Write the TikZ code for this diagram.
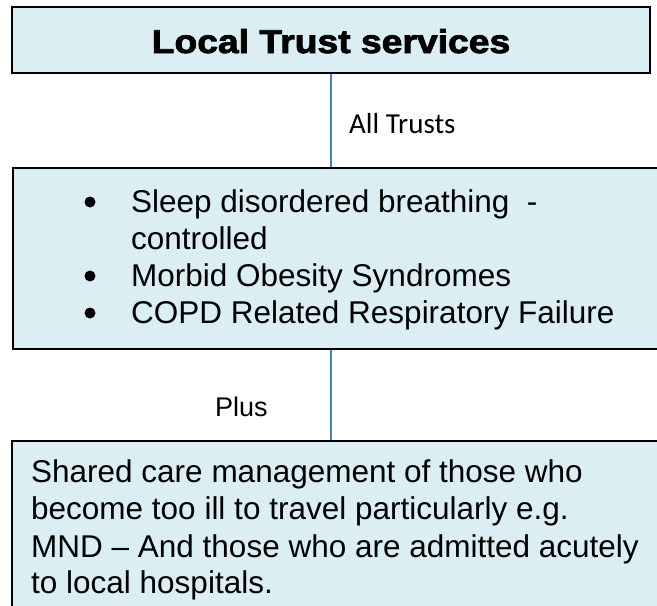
\documentclass[tikz,border=0pt]{standalone}
\usepackage{fontspec}
\setmainfont{Liberation Sans}
\newfontfamily\titlefont[UprightFont={* Bold},FakeStretch=1.13,FakeBold=2.5]{Liberation Sans}
\newfontfamily\bodyfont{Liberation Sans}
\newfontfamily\calibfont{Carlito}
\definecolor{boxfill}{HTML}{DBEEF4}
\definecolor{linkblue}{HTML}{4A7EBB}
\begin{document}
\begin{tikzpicture}[x=1pt,y=-1pt,
  box/.style={draw=black,line width=2pt,fill=boxfill,inner sep=0pt,rectangle},
  conn/.style={draw=linkblue,line width=1.6pt},
  bodytxt/.style={anchor=base west,inner sep=0pt,font=\bodyfont\fontsize{31.5}{37}\selectfont},
  bulletdot/.style={circle,fill=black,inner sep=0pt,minimum size=11pt}]
\clip (0,0) rectangle (657,606);
\fill[white] (0,0) rectangle (657,606);
\node[box,minimum width=638pt,minimum height=66pt] (top) at (331,40) {};
\node[box,minimum width=647pt,minimum height=181pt] (mid) at (336.5,258.5) {};
\node[box,minimum width=650pt,minimum height=174pt] (bot) at (337,528) {};
\draw[conn] (top.south) -- (top.south |- mid.north);
\draw[conn] (top.south |- mid.south) -- (top.south |- bot.north);
% title
\node[anchor=base,inner sep=0pt,font=\titlefont\fontsize{33}{38}\selectfont] (title) at (331,53) {Local Trust services};
% labels
\node[anchor=base west,inner sep=0pt,font=\calibfont\fontsize{29}{35}\selectfont] (alltrusts) at (349,133) {All Trusts};
\node[anchor=base west,inner sep=0pt,font=\fontsize{27}{32}\selectfont] (plus) at (215,416) {Plus};
% middle box content
\node[bulletdot] (b1) at (90,202) {};
\node[bulletdot] (b2) at (90,276) {};
\node[bulletdot] (b3) at (90,313) {};
\node[bodytxt] (m1) at (131,212) {Sleep disordered breathing\ \ -};
\node[bodytxt] (m2) at (131,249) {controlled};
\node[bodytxt] (m3) at (131,286) {Morbid Obesity Syndromes};
\node[bodytxt] (m4) at (131,323) {COPD Related Respiratory\ Failure};
% bottom box content
\node[bodytxt] (s1) at (31,482) {Shared care management of those who};
\node[bodytxt] (s2) at (31,519) {become too ill to travel particularly e.g.};
\node[bodytxt] (s3) at (31,557) {MND – And those who are admitted acutely};
\node[bodytxt] (s4) at (31,593) {to local hospitals.};
\end{tikzpicture}
\end{document}
